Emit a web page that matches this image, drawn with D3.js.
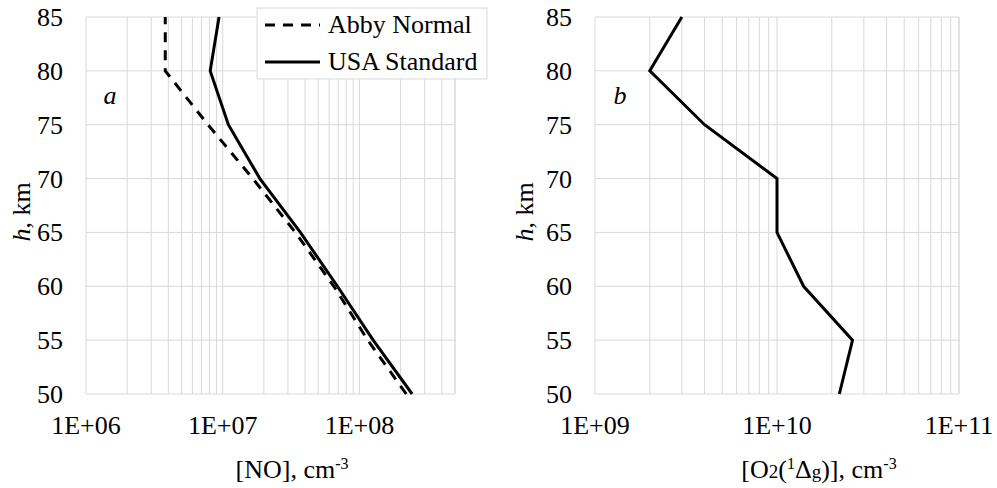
<!DOCTYPE html>
<html>
<head>
<meta charset="utf-8">
<script src="https://cdn.jsdelivr.net/npm/d3@7"></script>
</head>
<body style="margin:0">
<div id="chart"></div>
<script>
// altitude levels, km
const heights = [50, 55, 60, 65, 70, 75, 80, 85];
// [NO], cm-3
const noAbby = [2.2e8, 1.15e8, 6.5e7, 3.4e7, 1.66e7, 7.8e6, 3.8e6, 3.8e6];
const noUSA = [2.43e8, 1.26e8, 6.9e7, 3.7e7, 1.87e7, 1.1e7, 8.1e6, 9.4e6];
// [O2(1Δg)], cm-3
const o2Delta = [2.2e10, 2.6e10, 1.4e10, 1.0e10, 1.0e10, 4.0e9, 2.0e9, 3.0e9];

const hTicks = [50, 55, 60, 65, 70, 75, 80, 85];
const noTicks = [1e6, 1e7, 1e8];
const o2Ticks = [1e9, 1e10, 1e11];
const legendNames = ["Abby Normal", "USA Standard"];

const W = 997, H = 488;
const fs = 26;
const gridColor = "#d9d9d9";
const serif = "Liberation Serif";

const svg = d3.select("#chart").append("svg")
    .attr("width", W)
    .attr("height", H);

// every text goes through here so the serif font is set on the element itself
function label(parent) {
  return parent.append("text")
    .attr("font-family", serif)
    .attr("font-size", fs)
    .attr("fill", "#000");
}

const y = d3.scaleLinear().domain([50, 85]).range([394, 17]);

function minorValues(domain) {
  const out = [];
  const lo = Math.floor(Math.log10(domain[0])), hi = Math.ceil(Math.log10(domain[1]));
  for (let e = lo; e <= hi; e++) {
    for (let m = 1; m <= 9; m++) {
      const v = m * Math.pow(10, e);
      if (v >= domain[0] * 0.999 && v <= domain[1] * 1.001) out.push(v);
    }
  }
  return out;
}

function panel(opts) {
  const x = d3.scaleLog().domain(opts.domain).range(opts.range);
  const g = svg.append("g");

  // vertical grid
  g.append("g").selectAll("line")
    .data(minorValues(opts.domain))
    .enter().append("line")
      .attr("x1", d => x(d)).attr("x2", d => x(d))
      .attr("y1", y(85)).attr("y2", y(50))
      .attr("stroke", gridColor).attr("stroke-width", 1);
  // right edge
  g.append("line")
    .attr("x1", opts.range[1]).attr("x2", opts.range[1])
    .attr("y1", y(85)).attr("y2", y(50))
    .attr("stroke", gridColor);

  // horizontal grid
  g.append("g").selectAll("line")
    .data(hTicks)
    .enter().append("line")
      .attr("x1", opts.range[0]).attr("x2", opts.range[1])
      .attr("y1", d => y(d)).attr("y2", d => y(d))
      .attr("stroke", gridColor).attr("stroke-width", 1);

  // y tick labels
  const yl = g.append("g");
  hTicks.forEach(d => {
    label(yl)
      .attr("x", opts.range[0] - 23)
      .attr("y", y(d) + 9)
      .attr("text-anchor", "end")
      .text(d);
  });

  // x tick labels
  const xl = g.append("g");
  opts.ticks.forEach(d => {
    label(xl)
      .attr("x", x(d))
      .attr("y", 434)
      .attr("text-anchor", "middle")
      .text("1E+" + String(Math.round(Math.log10(d))).padStart(2, "0"));
  });

  // y title
  const yt = label(g)
    .attr("transform", `translate(${opts.range[0] - opts.titleDx},212) rotate(-90)`)
    .attr("text-anchor", "middle");
  yt.append("tspan").attr("font-style", "italic").text("h");
  yt.append("tspan").text(", km");

  // panel letter
  label(g)
    .attr("x", opts.range[0] + opts.letterDx)
    .attr("y", 104)
    .attr("text-anchor", "middle")
    .attr("font-style", "italic")
    .text(opts.letter);

  // lines
  opts.series.forEach(s => {
    g.append("path")
      .datum(heights.map((h, i) => [s.values[i], h]))
      .attr("fill", "none")
      .attr("stroke", "#000")
      .attr("stroke-width", 3)
      .attr("stroke-dasharray", s.dash ? "10,8" : null)
      .attr("d", d3.line().x(d => x(d[0])).y(d => y(d[1])));
  });

  return { g, x };
}

const left = panel({
  domain: [1e6, 5e8], range: [86, 455], ticks: noTicks,
  letter: "a", letterDx: 24, titleDx: 56,
  series: [{ values: noAbby, dash: true }, { values: noUSA, dash: false }]
});

const right = panel({
  domain: [1e9, 1e11], range: [595, 959], ticks: o2Ticks,
  letter: "b", letterDx: 25, titleDx: 62,
  series: [{ values: o2Delta, dash: false }]
});

// x titles
const t1 = label(svg)
  .attr("x", 292).attr("y", 478)
  .attr("text-anchor", "middle");
t1.append("tspan").text("[NO], cm");
t1.append("tspan").attr("dy", -9).attr("font-size", 16).text("-3");

const t2 = label(svg)
  .attr("x", 819).attr("y", 478)
  .attr("text-anchor", "middle");
t2.append("tspan").text("[O");
t2.append("tspan").attr("font-size", 19).text("2");
t2.append("tspan").text("(");
t2.append("tspan").attr("dy", -9).attr("font-size", 16).text("1");
t2.append("tspan").attr("dy", 9).text("Δ");
t2.append("tspan").attr("font-size", 19).text("g");
t2.append("tspan").text(")], cm");
t2.append("tspan").attr("dy", -9).attr("font-size", 16).text("-3");

// legend
const lg = svg.append("g");
lg.append("rect")
  .attr("x", 257).attr("y", 8)
  .attr("width", 230).attr("height", 71)
  .attr("fill", "#fff")
  .attr("stroke", gridColor);
legendNames.forEach((name, i) => {
  const cy = 25 + i * 37;
  lg.append("line")
    .attr("x1", 265).attr("x2", 320)
    .attr("y1", cy).attr("y2", cy)
    .attr("stroke", "#000").attr("stroke-width", 3)
    .attr("stroke-dasharray", i === 0 ? "10,8" : null);
  label(lg)
    .attr("x", 328).attr("y", cy + 8)
    .text(name);
});
</script>
</body>
</html>
